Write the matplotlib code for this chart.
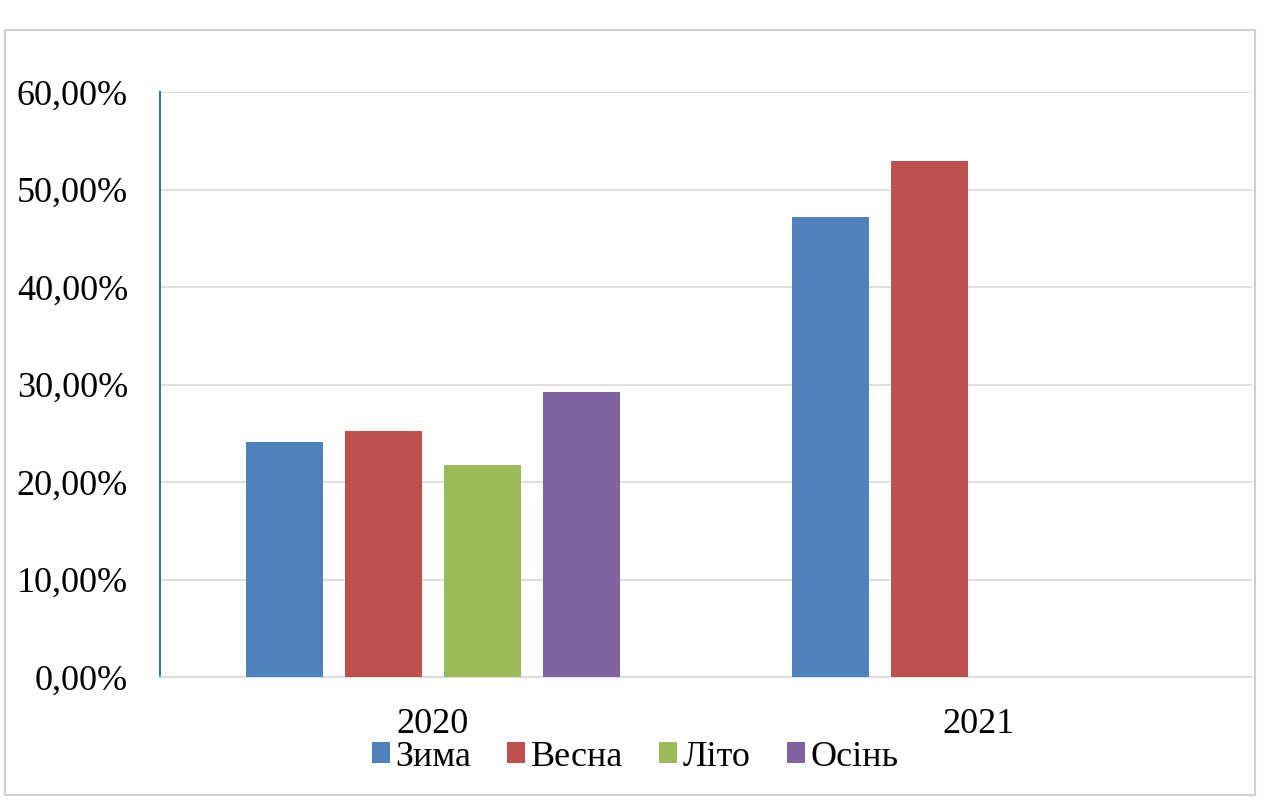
import numpy as np
import matplotlib
matplotlib.use("Agg")
import matplotlib.pyplot as plt
from matplotlib.ticker import FuncFormatter, MultipleLocator
from matplotlib.patches import Rectangle

plt.rcParams['font.family'] = ['Liberation Serif', 'DejaVu Serif']

# data
years = ['2020', '2021']
seasons = ['Зима', 'Весна', 'Літо', 'Осінь']
zyma = [24.1, 47.2]
vesna = [25.2, 52.9]
lito = [21.7, np.nan]
osin = [29.2, np.nan]
colors = ['#4F81BD', '#C0504D', '#9BBB59', '#8064A2']

fig = plt.figure(figsize=(12.72, 8), dpi=100)
ax = fig.add_axes([160 / 1272, 123 / 800, 1092 / 1272, 585 / 800])

# chart frame
fig.patches.append(Rectangle((5 / 1272, 5 / 800), 1250 / 1272, 765 / 800,
                             transform=fig.transFigure, fill=False,
                             edgecolor='#d0d0d0', lw=1.5))

x = np.arange(len(years))
step = 0.1813
width = 0.141
for i, (vals, name) in enumerate(zip([zyma, vesna, lito, osin], seasons)):
    ax.bar(x + (i - 1.5) * step, vals, width, color=colors[i], label=name,
           zorder=3)

ax.set_xlim(-0.5, 1.5)
ax.set_ylim(0, 60)
ax.yaxis.set_major_locator(MultipleLocator(10))
ax.yaxis.set_major_formatter(FuncFormatter(lambda v, p: f'{v:.2f}%'.replace('.', ',')))
ax.grid(axis='y', color='#d9d9d9', lw=1.2, zorder=0)
ax.set_xticks(x)
ax.set_xticklabels(years)

for s in ['top', 'right']:
    ax.spines[s].set_visible(False)
ax.spines['left'].set_color('#4a6ea0')
ax.spines['left'].set_linewidth(1.5)
ax.spines['bottom'].set_color('#d9d9d9')
ax.spines['bottom'].set_linewidth(1.2)

ax.tick_params(axis='y', length=0, pad=23, labelsize=26)
ax.tick_params(axis='x', length=0, pad=22, labelsize=26)

ax.legend(loc='center', bbox_to_anchor=(635 / 1272, 43 / 800),
          bbox_transform=fig.transFigure, ncol=4, frameon=False, fontsize=26,
          handlelength=0.5, handleheight=0.5, handletextpad=0.15,
          columnspacing=1.0)

fig.savefig('out.png', dpi=100)
